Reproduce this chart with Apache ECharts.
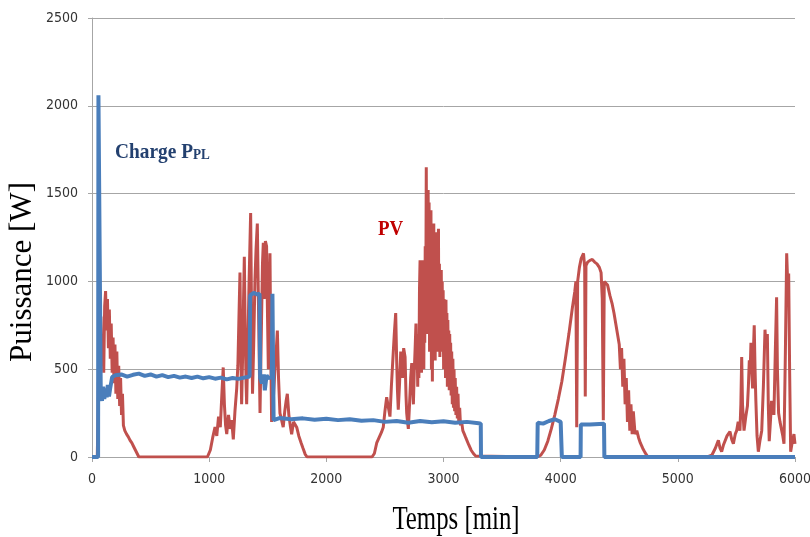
<!DOCTYPE html>
<html>
<head>
<meta charset="utf-8">
<script src="https://cdn.jsdelivr.net/npm/echarts@6/dist/echarts.min.js"></script>
<style>
  html, body { margin: 0; padding: 0; background: #fff; }
  #chart { width: 810px; height: 537px; }
</style>
</head>
<body>
<div id="chart"></div>
<script>
// [temps en min, puissance en W]
const pvData = [
  [0,0],[45,0],[52,250],[60,780],[68,450],[76,800],[84,520],[92,700],[100,480],[108,860],[116,945],[124,720],
  [132,900],[140,620],[148,840],[156,560],[164,760],[172,480],[180,680],[188,420],[196,640],[204,360],[212,600],
  [220,330],[228,520],[236,290],[244,450],[252,240],[260,360],[268,180],[280,150],[295,130],[310,115],[325,95],
  [340,80],[355,60],[370,40],[385,20],[400,0],
  [985,0],[1010,40],[1030,110],[1050,170],[1065,120],[1080,230],[1095,170],[1110,380],[1120,510],[1130,300],
  [1140,180],[1150,130],[1165,240],[1180,160],[1192,210],[1206,100],[1220,260],[1235,390],[1245,520],[1255,820],
  [1263,1050],[1270,600],[1277,300],[1285,560],[1293,880],[1300,1140],[1308,700],[1315,420],[1320,300],[1330,620],
  [1340,980],[1354,1390],[1362,800],[1370,360],[1380,640],[1391,1010],[1400,1180],[1411,1330],[1420,900],[1434,250],
  [1445,700],[1455,1100],[1462,1220],[1470,900],[1480,1230],[1490,1200],[1498,800],[1505,500],[1512,900],[1519,1160],
  [1526,600],[1533,200],[1545,300],[1560,480],[1572,600],[1582,720],[1592,450],[1604,250],[1615,220],[1632,170],
  [1645,260],[1657,320],[1667,360],[1680,240],[1692,180],[1704,130],[1720,200],[1735,210],[1747,170],[1765,120],
  [1785,80],[1801,50],[1820,15],[1835,0],
  [2390,0],[2410,20],[2430,80],[2450,110],[2470,140],[2486,170],[2500,260],[2515,340],[2530,280],[2543,230],
  [2555,400],[2566,535],[2580,700],[2592,820],[2600,560],[2607,380],[2614,270],[2625,420],[2635,600],[2643,570],
  [2650,450],[2660,620],[2672,570],[2680,350],[2686,250],[2693,200],[2700,160],[2710,300],[2720,450],[2729,535],
  [2736,420],[2743,300],[2750,480],[2758,620],[2765,760],[2770,500],[2775,650],[2780,400],[2785,700],[2790,450],
  [2795,950],[2800,1120],[2804,600],[2808,900],[2812,480],[2816,1000],[2820,700],[2824,1120],[2828,900],[2832,500],
  [2836,1050],[2840,650],[2844,1200],[2848,700],[2853,1650],[2857,900],[2861,1400],[2865,700],[2869,1520],[2873,800],
  [2877,1450],[2881,600],[2885,1350],[2889,750],[2893,1405],[2897,500],[2901,1200],[2905,430],[2909,1100],[2913,600],
  [2917,1330],[2921,700],[2925,1250],[2929,550],[2933,1200],[2937,800],[2941,1280],[2945,600],[2949,1150],[2953,900],
  [2957,1300],[2961,600],[2965,1100],[2969,570],[2973,1000],[2977,700],[2981,1065],[2985,600],[2989,1000],[2993,650],
  [2997,950],[3001,500],[3005,900],[3009,600],[3013,880],[3017,450],[3021,895],[3025,600],[3029,820],[3033,400],
  [3037,780],[3041,500],[3045,720],[3049,380],[3053,700],[3057,450],[3061,650],[3065,350],[3070,600],[3075,300],
  [3080,560],[3085,280],[3090,500],[3095,260],[3100,450],[3106,240],[3112,400],[3118,220],[3124,360],[3130,200],
  [3138,280],[3145,180],[3155,200],[3165,150],[3178,130],[3190,110],[3198,100],[3215,70],[3235,40],[3255,20],
  [3275,5],[3290,0],
  [3800,0],[3830,10],[3860,40],[3890,90],[3920,160],[3950,240],[3980,330],[4010,430],[4040,560],[4070,700],
  [4100,850],[4120,940],[4130,1000],[4137,170],[4145,1000],[4160,1080],[4175,1130],[4185,1120],[4195,1160],[4205,1080],
  [4210,345],[4216,1090],[4230,1110],[4250,1120],[4270,1125],[4290,1110],[4310,1100],[4330,1080],[4345,1050],[4355,900],
  [4364,210],[4372,1000],[4385,1010],[4400,980],[4420,920],[4440,870],[4455,820],[4470,760],[4485,700],[4500,640],
  [4510,500],[4520,620],[4530,400],[4540,560],[4550,300],[4560,450],[4570,200],[4580,380],[4590,150],[4600,300],
  [4610,130],[4620,260],[4635,130],[4650,150],[4665,110],[4680,80],[4700,50],[4720,25],[4745,0],
  [5250,0],[5290,10],[5320,50],[5346,95],[5360,50],[5374,30],[5390,70],[5403,75],[5420,120],[5445,145],[5460,100],
  [5474,75],[5490,130],[5502,150],[5515,200],[5530,150],[5538,300],[5545,570],[5552,300],[5565,150],[5580,230],
  [5594,290],[5602,400],[5610,550],[5617,480],[5624,650],[5630,500],[5638,390],[5645,600],[5652,750],[5659,500],
  [5666,320],[5676,120],[5687,30],[5700,90],[5716,150],[5730,400],[5744,725],[5752,620],[5764,700],[5772,300],
  [5780,90],[5790,200],[5800,320],[5810,280],[5820,240],[5832,600],[5843,910],[5850,500],[5860,250],[5872,200],
  [5886,190],[5896,120],[5906,75],[5918,600],[5929,1160],[5937,1000],[5946,1045],[5954,500],[5963,30],[5975,80],
  [5991,130],[6000,75]
]

const chargeData = [
  [0,0],[52,0],[55,2060],[68,2060],[75,350],[85,320],[95,400],[105,330],[115,390],[125,340],[135,410],[145,345],
  [155,390],[165,380],[172,455],[200,465],[250,470],[300,458],[350,468],[400,475],[450,462],[500,470],[550,458],
  [600,466],[650,455],[700,462],[750,452],[800,458],[850,450],[900,458],[950,448],[1000,455],[1050,446],[1100,452],
  [1150,442],[1200,450],[1250,445],[1300,452],[1345,458],[1350,920],[1380,935],[1410,925],[1430,930],[1435,450],
  [1450,420],[1465,470],[1475,380],[1490,465],[1505,450],[1520,440],[1535,455],[1540,930],[1546,930],[1550,210],
  [1600,222],[1700,215],[1800,220],[1900,212],[2000,218],[2100,210],[2200,215],[2300,206],[2400,210],[2500,200],
  [2600,205],[2700,195],[2800,205],[2900,198],[3000,203],[3100,195],[3200,200],[3300,192],[3318,190],[3320,0],
  [3800,0],[3804,195],[3850,190],[3900,205],[3950,215],[4000,200],[4008,200],[4010,0],[4170,0],[4172,185],
  [4250,185],[4370,190],[4373,0],[6000,0]
]

const tickFont = "'Liberation Sans Narrow', 'DejaVu Sans Condensed', 'Liberation Sans', sans-serif"
const serif = "'Liberation Serif', 'DejaVu Serif', serif"
const gridGray = '#a6a6a6'

var chart = echarts.init(document.getElementById('chart'))
chart.setOption({
  animation: false,
  backgroundColor: '#fff',
  grid: { left: 92, right: 15, top: 18, bottom: 80, containLabel: false, outerBoundsMode: 'none' },
  xAxis: {
    type: 'value',
    min: 0,
    max: 6000,
    interval: 1000,
    axisLine: { lineStyle: { color: gridGray } },
    axisTick: { show: true, length: 5, lineStyle: { color: gridGray } },
    splitLine: { show: false },
    axisLabel: { color: '#333', fontSize: 14, fontFamily: tickFont, margin: 15, formatter: v => String(v) }
  },
  yAxis: {
    type: 'value',
    min: 0,
    max: 2500,
    interval: 500,
    axisLine: { show: true, lineStyle: { color: gridGray } },
    axisTick: { show: true, length: 4, lineStyle: { color: gridGray } },
    splitLine: { lineStyle: { color: gridGray, width: 1 } },
    axisLabel: { color: '#333', fontSize: 14, fontFamily: tickFont, margin: 14, formatter: v => String(v) }
  },
  series: [
    {
      name: 'PV',
      type: 'line',
      data: pvData,
      showSymbol: false,
      lineStyle: { color: '#c0504d', width: 3 },
      itemStyle: { color: '#c0504d' }
    },
    {
      name: 'Charge',
      type: 'line',
      data: chargeData,
      showSymbol: false,
      lineStyle: { color: '#4a7ebb', width: 4 },
      itemStyle: { color: '#4a7ebb' }
    }
  ],
  graphic: [
    {
      type: 'text', x: 23, y: 272, rotation: Math.PI / 2,
      style: { text: 'Puissance [W]', fontSize: 31, fontFamily: serif, fill: '#000', align: 'center', verticalAlign: 'middle' }
    },
    {
      type: 'text', x: 456, y: 520, scaleX: 0.73,
      style: { text: 'Temps [min]', fontSize: 34, fontFamily: serif, fill: '#000', align: 'center', verticalAlign: 'middle' }
    },
    {
      type: 'text', x: 115, y: 152, scaleX: 0.88,
      style: {
        text: '{a|Charge P}{b|PL}',
        verticalAlign: 'middle',
        rich: {
          a: { fontSize: 22, fontWeight: 'bold', fontFamily: serif, fill: '#23406f', verticalAlign: 'bottom' },
          b: { fontSize: 15, fontWeight: 'bold', fontFamily: serif, fill: '#23406f', verticalAlign: 'bottom' }
        }
      }
    },
    {
      type: 'text', x: 378, y: 229, scaleX: 0.86,
      style: { text: 'PV', fontSize: 22, fontWeight: 'bold', fontFamily: serif, fill: '#c00000', verticalAlign: 'middle' }
    }
  ]
})
</script>
</body>
</html>
